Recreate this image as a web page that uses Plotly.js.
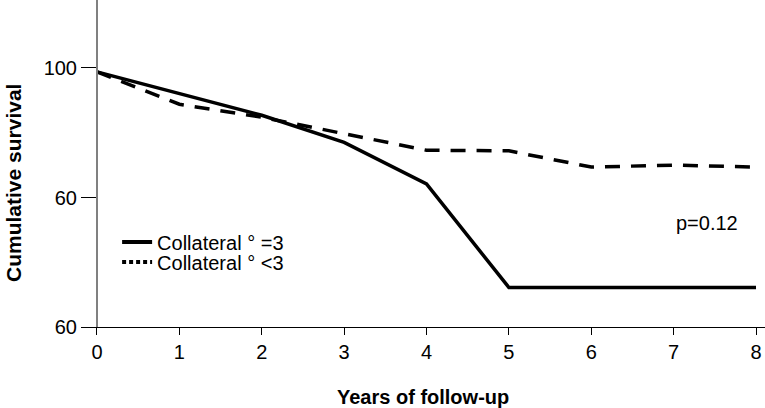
<!DOCTYPE html>
<html>
<head>
<meta charset="utf-8">
<script src="https://cdn.plot.ly/plotly-3.0.1.min.js"></script>
<style>html,body{margin:0;padding:0;background:#fff;}#chart{width:765px;height:408px;}</style>
</head>
<body>
<div id="chart"></div>
<script>
// Data
const years = [0, 1, 2, 3, 4, 5, 6, 7, 8];
const survivalEq3 = [99.4, 96.1, 92.7, 88.5, 82.1, 66.1, 66.1, 66.1, 66.1];
const survivalLt3 = [99.4, 94.4, 92.4, 89.8, 87.3, 87.2, 84.7, 85.0, 84.7];
const seriesNames = ['Collateral ° =3', 'Collateral ° <3'];
const yTickVals = [60, 80, 100];
const yTickText = ['60', '60', '100'];
const xTickVals = [0, 1, 2, 3, 4, 5, 6, 7, 8];
const xTitle = 'Years of follow-up';
const yTitle = 'Cumulative survival';
const pText = 'p=0.12';

const FONT = 'Liberation Sans, Arial, Helvetica, sans-serif';

const traces = [
  {x: years, y: survivalEq3, mode: 'lines', showlegend: false,
   line: {color: '#000', width: 3.5}},
  {x: years, y: survivalLt3, mode: 'lines', showlegend: false,
   line: {color: '#000', width: 3.5, dash: '15px,11px'}},
  {x: [null], y: [null], mode: 'lines', name: seriesNames[0], legend: 'legend',
   line: {color: '#000', width: 4}},
  {x: [null], y: [null], mode: 'lines', name: seriesNames[1], legend: 'legend2',
   line: {color: '#000', width: 4, dash: '4px,3px'}}
];

const legendCommon = {
  xanchor: 'left', yanchor: 'middle', bgcolor: 'rgba(0,0,0,0)',
  font: {family: FONT, size: 20, color: '#000'}, itemwidth: 30,
  borderwidth: 0
};

const layout = {
  width: 765, height: 408,
  margin: {l: 88, r: 0, t: 0, b: 81},
  paper_bgcolor: '#fff', plot_bgcolor: '#fff',
  font: {family: FONT, size: 20, color: '#000'},
  xaxis: {
    range: [-0.109, 8.109], tickvals: xTickVals, ticks: 'outside', ticklen: 7,
    tickwidth: 1, tickcolor: '#000', showline: true, linecolor: '#000', linewidth: 1.3,
    showgrid: false, zeroline: false, tickfont: {family: FONT, size: 20, color: '#000'}
  },
  yaxis: {
    range: [60, 110.5], tickvals: yTickVals, ticktext: yTickText,
    anchor: 'free', position: 0.0133,
    ticks: 'outside', ticklen: 15, tickwidth: 1, tickcolor: '#000',
    showline: true, linecolor: '#808080', linewidth: 2,
    showgrid: false, zeroline: false, tickfont: {family: FONT, size: 20, color: '#000'}
  },
  legend: Object.assign({x: 0.043, y: 0.26}, legendCommon),
  legend2: Object.assign({x: 0.043, y: 0.199}, legendCommon),
  annotations: [
    {text: '<b>' + xTitle + '</b>', xref: 'paper', yref: 'paper', x: 0.495, y: -0.214,
     xanchor: 'center', yanchor: 'middle', showarrow: false,
     font: {family: FONT, size: 20, color: '#000'}},
    {text: '<b>' + yTitle + '</b>', xref: 'paper', yref: 'paper', x: -0.111, y: 0.44,
     xanchor: 'center', yanchor: 'middle', showarrow: false, textangle: -90,
     font: {family: FONT, size: 21, color: '#000'}},
    {text: pText, xref: 'paper', yref: 'paper', x: 0.914, y: 0.318,
     xanchor: 'center', yanchor: 'middle', showarrow: false,
     font: {family: FONT, size: 20, color: '#000'}}
  ]
};

Plotly.newPlot('chart', traces, layout, {staticPlot: true, displayModeBar: false});
</script>
</body>
</html>
